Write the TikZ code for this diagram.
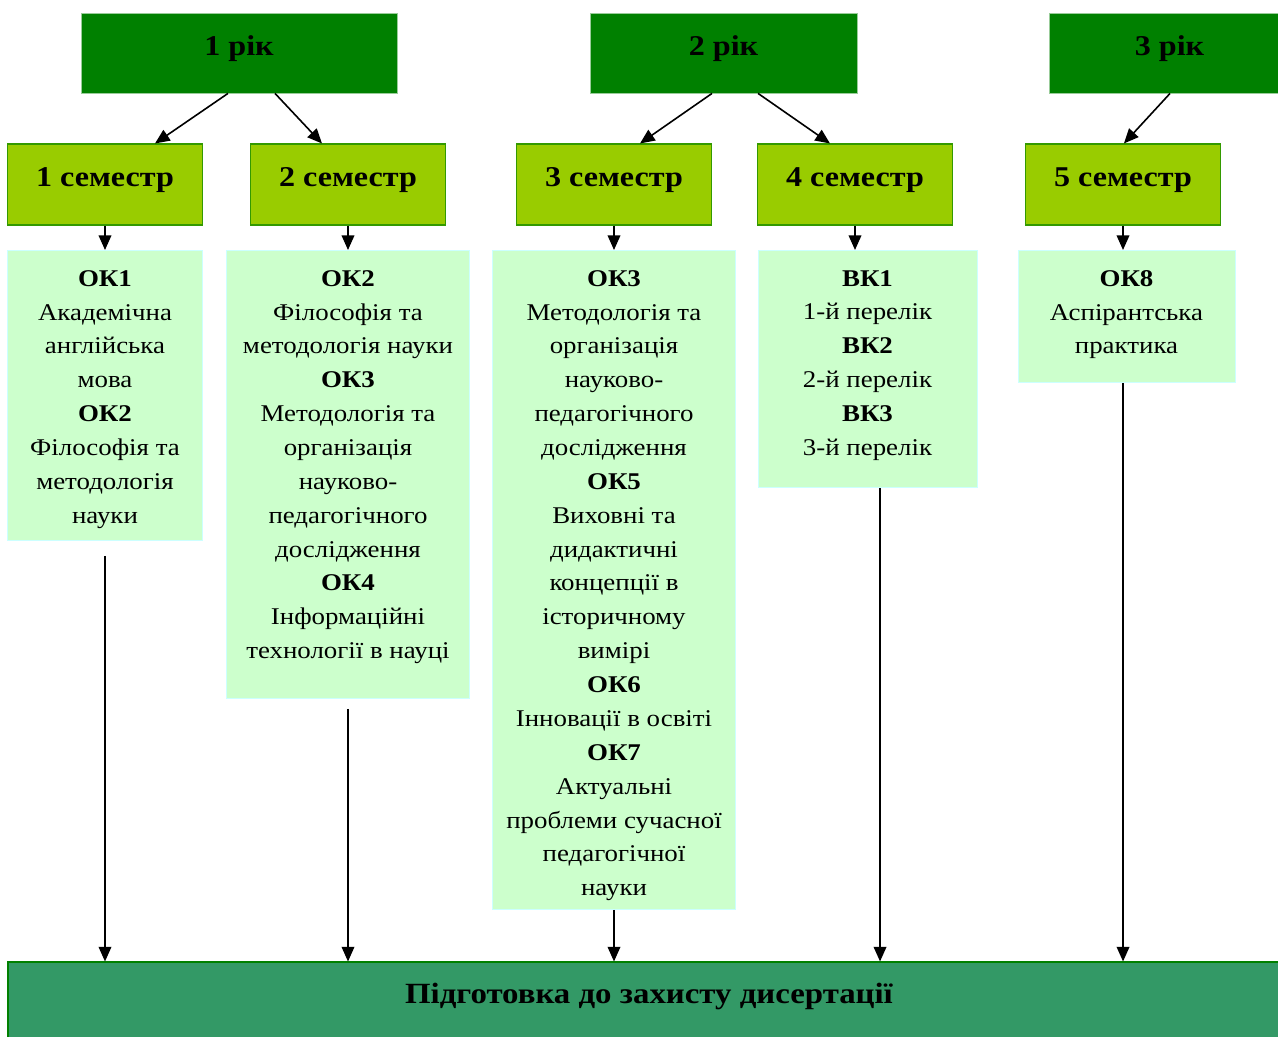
\documentclass[tikz,border=0pt]{standalone}
\usepackage{fontspec}
\setmainfont{Liberation Serif}[FakeStretch=1.12]
\usetikzlibrary{arrows.meta, positioning}

\definecolor{yeargreen}{HTML}{008000}
\definecolor{yearline}{HTML}{99CC99}
\definecolor{semgreen}{HTML}{99CC00}
\definecolor{semline}{HTML}{339900}
\definecolor{boxgreen}{HTML}{CCFFCC}
\definecolor{boxline}{HTML}{CCFFFF}
\definecolor{prepgreen}{HTML}{339966}

\begin{document}
\begin{tikzpicture}[x=0.75pt, y=-0.75pt,
	year/.style={draw=yearline, fill=yeargreen, line width=0.6pt, minimum height=60pt,
		text depth=11pt, font=\fontsize{21.5}{24}\selectfont\bfseries},
	sem/.style={draw=semline, fill=semgreen, line width=0.8pt, minimum width=146.25pt,
		minimum height=60.75pt, text depth=11pt, font=\fontsize{21.5}{24}\selectfont\bfseries},
	course/.style={draw=boxline, fill=boxgreen, line width=0.6pt, anchor=north},
	coursetext/.style={anchor=north, align=center, inner sep=0pt, yshift=-15pt,
		font=\fontsize{18}{25.4}\selectfont},
	arr/.style={-{Triangle[length=11pt, width=9.5pt]}, line width=1.2pt}]
	\useasboundingbox (0,0) rectangle (1278,1036);

	% years
	\node[year, minimum width=237pt] (yr1) at (239,53) {1 рік};
	\node[year, minimum width=200.25pt] (yr2) at (723.5,53) {2 рік};
	\node[year, minimum width=180.75pt] (yr3) at (1169.5,53) {3 рік};

	% semesters
	\foreach \i/\x in {1/105, 2/348, 3/614, 4/855, 5/1123}
		\node[sem] (sem\i) at (\x,184.5) {\i\ семестр};

	% courses
	\foreach \i/\x/\w/\h in {1/105/146.25/217.5, 2/348/182.25/336, 3/614/182.25/494.25,
		4/867.5/164.25/177.75, 5/1126.5/162.75/99}
		\node[course, minimum width=\w pt, minimum height=\h pt] (box\i) at (\x,250) {};
	\node[coursetext] (txt1) at (box1.north)
		{\textbf{ОК1}\\Академічна\\англійська\\мова\\\textbf{ОК2}\\Філософія та\\методологія\\науки};
	\node[coursetext] (txt2) at (box2.north)
		{\textbf{ОК2}\\Філософія та\\методологія науки\\\textbf{ОК3}\\Методологія та\\організація\\науково-\\педагогічного\\дослідження\\\textbf{ОК4}\\Інформаційні\\технології в науці};
	\node[coursetext] (txt3) at (box3.north)
		{\textbf{ОК3}\\Методологія та\\організація\\науково-\\педагогічного\\дослідження\\\textbf{ОК5}\\Виховні та\\дидактичні\\концепції в\\історичному\\вимірі\\\textbf{ОК6}\\Інновації в освіті\\\textbf{ОК7}\\Актуальні\\проблеми сучасної\\педагогічної\\науки};
	\node[coursetext] (txt4) at (box4.north)
		{\textbf{ВК1}\\1-й перелік\\\textbf{ВК2}\\2-й перелік\\\textbf{ВК3}\\3-й перелік};
	\node[coursetext] (txt5) at (box5.north)
		{\textbf{ОК8}\\Аспірантська\\практика};

	% final stage
	\node[draw=yeargreen, fill=prepgreen, line width=0.8pt, minimum width=961.5pt, minimum height=58.5pt,
		text depth=11pt, font=\fontsize{22}{24}\selectfont\bfseries] (prep) at (649,1001) {Підготовка до захисту дисертації};

	% year -> semester
	\foreach \a/\sa/\b/\sb in {yr1/-8.25/sem1/37.5, yr1/27/sem2/-19.5, yr2/-8.6/sem3/19.5,
		yr2/25.9/sem4/-18.75, yr3/0.4/sem5/0.7}
		\draw[arr] ([xshift=\sa pt]\a.south) -- ([xshift=\sb pt]\b.north);

	% semester -> courses
	\foreach \i in {1,...,5}
		\draw[arr] (sem\i.south) -- (sem\i.south |- box\i.north);

	% courses -> final stage
	\foreach \i/\dx/\dy in {1/0/-11.25, 2/0/-7.5, 3/0/0, 4/9.4/0, 5/-2.6/0}
		\draw[arr] ([xshift=\dx pt, yshift=\dy pt]box\i.south) -- ([xshift=\dx pt]box\i.south |- prep.north);
\end{tikzpicture}
\end{document}
